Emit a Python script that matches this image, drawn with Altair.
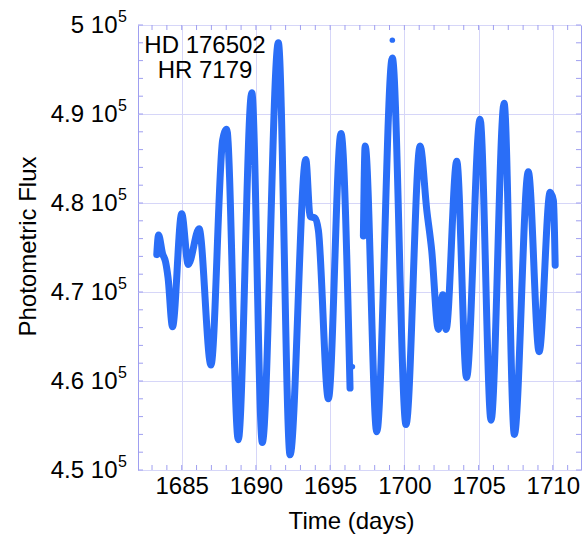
import altair as alt
import pandas as pd

# ---- light curve ----
time_days = [
    1683.32, 1683.44, 1683.71, 1683.91, 1684.08, 1684.38, 1685.00, 1685.44,
    1686.17, 1686.97, 1687.76, 1688.03, 1688.81, 1689.72, 1690.43, 1691.51,
    1692.30, 1693.36, 1693.65, 1693.98, 1694.21, 1694.88, 1695.73, 1696.34,
    1697.24, 1697.36, 1698.14, 1699.19, 1700.11, 1701.06, 1701.51, 1701.84,
    1702.29, 1702.59, 1702.81, 1703.53, 1704.19, 1705.10, 1705.84, 1706.72,
    1707.41, 1708.35, 1709.08, 1709.82, 1710.04, 1710.16,
]
flux = [
    474200, 476400, 474300, 473400, 471600, 466100, 478800, 473100,
    477100, 461800, 487100, 488300, 453400, 492400, 453100, 498000,
    451700, 484900, 478500, 478300, 476900, 458000, 487800, 459200,
    476300, 486400, 454300, 496300, 455100, 486400, 479200, 474700,
    465800, 469700, 465800, 484700, 460400, 489400, 455600, 491200,
    454000, 483500, 463300, 481200, 480300, 473000,
]
segment = [1] * 24 + [2] * 22

outlier_time = [1696.50, 1699.19]
outlier_flux = [461600, 498300]

star_labels = ["HD 176502", "HR 7179"]

x_major = [1685, 1690, 1695, 1700, 1705, 1710]
y_major = [450000, 460000, 470000, 480000, 490000, 500000]
y_exponent = ["5", "5", "5", "5", "5", "5"]
x_minor = list(range(1683, 1712))
y_minor = list(range(450000, 500001, 2000))

FONT = "Liberation Sans"
BLUE = "#2a6ef7"
FRAME = "#9f9ff0"
GRID = "#d6d6f8"
W, H = 443, 445

xs = alt.Scale(domain=[1682.055, 1711.9], nice=False, zero=False)
ys = alt.Scale(domain=[450000, 500000], nice=False, zero=False)

df = pd.DataFrame({"time": time_days, "flux": flux, "segment": segment})
df_out = pd.DataFrame({"time": outlier_time, "flux": outlier_flux})
df_xt = pd.DataFrame({"time": x_minor})
df_yt = pd.DataFrame({"flux": y_minor})
df_exp = pd.DataFrame({"flux": y_major, "exp": y_exponent})

x_axis = alt.Axis(
    title="Time (days)", values=x_major, format="d", grid=True, gridColor=GRID, gridWidth=1,
    ticks=False, domain=False, labelFont=FONT, labelFontSize=24, labelColor="black",
    labelPadding=4, labelBaseline="top", titleFont=FONT, titleFontSize=24,
    titleFontWeight="normal", titleColor="black", titleX=213, titleY=51,
    titleBaseline="middle", titleAlign="center",
)
y_axis = alt.Axis(
    title="Photometric Flux", values=y_major, grid=True, gridColor=GRID, gridWidth=1,
    ticks=False, domain=False, labelFont=FONT, labelFontSize=24, labelColor="black",
    labelPadding=21, labelAlign="right", labelBaseline="middle",
    labelExpr="format(datum.value/100000, '.1~f') + ' 10'",
    titleFont=FONT, titleFontSize=24, titleFontWeight="normal", titleColor="black",
    titleAngle=270, titleX=-110, titleY=221, titleBaseline="middle", titleAlign="center",
)

X = alt.X("time:Q", scale=xs, axis=x_axis)
Y = alt.Y("flux:Q", scale=ys, axis=y_axis)

line = alt.Chart(df).mark_line(
    color=BLUE, strokeWidth=7, interpolate="monotone", strokeCap="round", strokeJoin="round"
).encode(x=X, y=Y, detail="segment:N")

pts = alt.Chart(df_out).mark_circle(color=BLUE, size=30, opacity=1).encode(x=X, y=Y)

exps = alt.Chart(df_exp).mark_text(
    font=FONT, fontSize=16, color="black", align="right", baseline="middle", dy=-8
).encode(y=Y, x=alt.value(-11), text="exp:N")

tick_bottom = alt.Chart(df_xt).mark_rule(color=FRAME, strokeWidth=1).encode(
    x=X, y=alt.value(H), y2=alt.value(H - 5)
)
tick_top = alt.Chart(df_xt).mark_rule(color=FRAME, strokeWidth=1).encode(
    x=X, y=alt.value(0), y2=alt.value(5)
)
tick_left = alt.Chart(df_yt).mark_rule(color=FRAME, strokeWidth=1).encode(
    y=Y, x=alt.value(0), x2=alt.value(5)
)
tick_right = alt.Chart(df_yt).mark_rule(color=FRAME, strokeWidth=1).encode(
    y=Y, x=alt.value(W), x2=alt.value(W - 5)
)

label1 = alt.Chart(df_out.head(1)).mark_text(
    font=FONT, fontSize=24, color="black", align="center", baseline="alphabetic"
).encode(x=alt.value(67), y=alt.value(28), text=alt.value(star_labels[0]))
label2 = alt.Chart(df_out.head(1)).mark_text(
    font=FONT, fontSize=24, color="black", align="center", baseline="alphabetic"
).encode(x=alt.value(67), y=alt.value(53), text=alt.value(star_labels[1]))

chart = alt.layer(
    line, pts, tick_bottom, tick_top, tick_left, tick_right, exps, label1, label2
).properties(
    width=W, height=H,
    padding={"left": 138, "top": 25, "right": 4, "bottom": 68},
    autosize=alt.AutoSizeParams(type="none"),
    background="white",
).configure_view(stroke=FRAME, strokeWidth=1)

chart.save("out.html", embed_options={"renderer": "svg", "actions": False})
